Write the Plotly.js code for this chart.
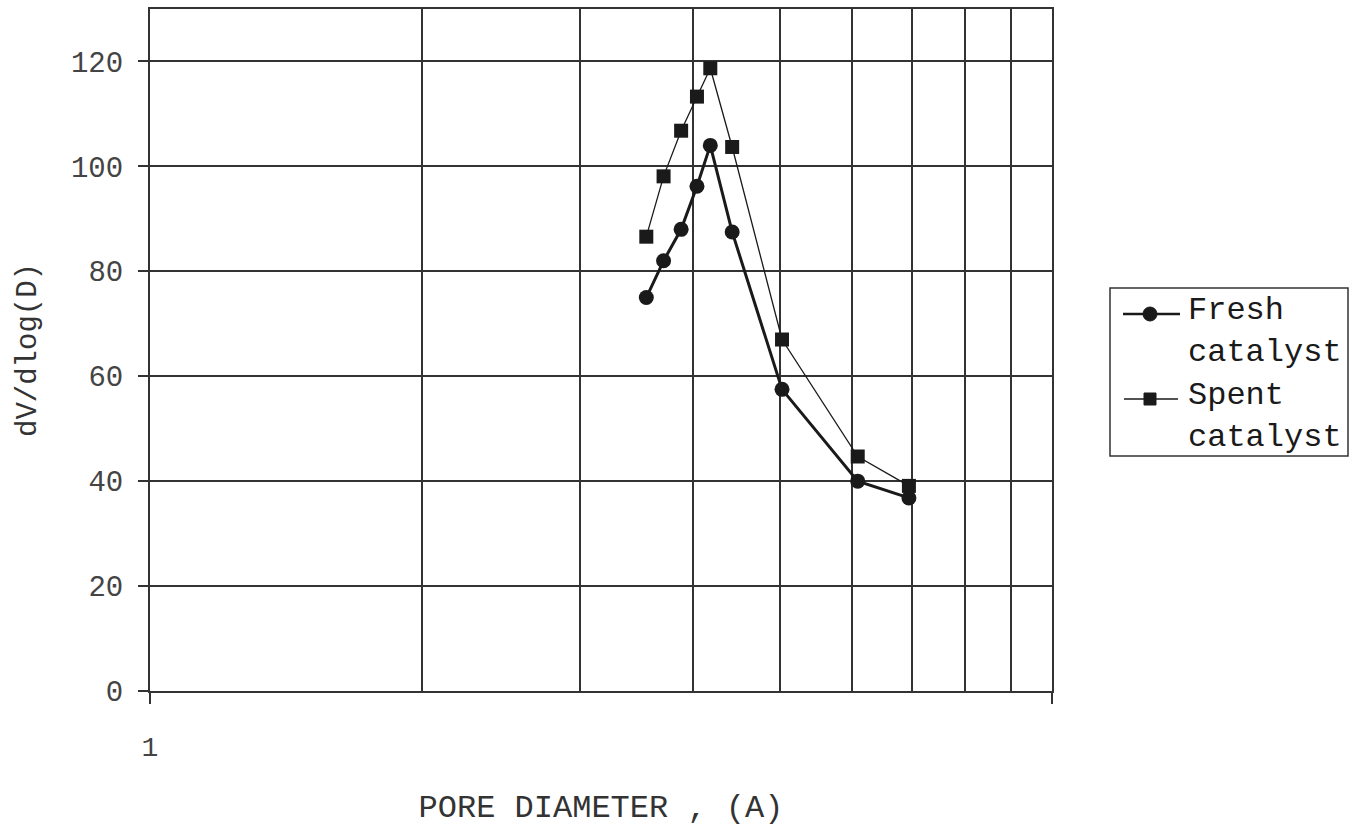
<!DOCTYPE html>
<html>
<head>
<meta charset="utf-8">
<script src="https://cdn.plot.ly/plotly-3.0.1.min.js"></script>
<style>
  html, body { margin: 0; padding: 0; background: #ffffff; }
  #chart { width: 1350px; height: 828px; }
</style>
</head>
<body>
<div id="chart"></div>
<script>
// Pore size distribution, fresh vs spent catalyst
const poreDiameter = [3.55, 3.71, 3.88, 4.04, 4.18, 4.42, 5.02, 6.09, 6.94];
const freshValues  = [75.0, 82.0, 88.0, 96.2, 104.0, 87.5, 57.5, 40.0, 36.8];
const spentValues  = [86.6, 98.1, 106.8, 113.3, 118.7, 103.7, 67.0, 44.7, 39.1];

const yTicks = [0, 20, 40, 60, 80, 100, 120];
const xMajorTicks = [1, 10];
const xMajorLabels = ['1', ''];
const xMinorGrid = [2, 3, 4, 5, 6, 7, 8, 9];

const monoFont = 'Liberation Mono, Courier New, monospace';
const ink = '#1a1a1a';
const gridInk = '#333333';

const traces = [
  {
    x: poreDiameter, y: freshValues, name: 'Fresh catalyst',
    type: 'scatter', mode: 'lines+markers',
    line: { color: ink, width: 3 },
    marker: { symbol: 'circle', size: 15, color: ink },
    cliponaxis: false
  },
  {
    x: poreDiameter, y: spentValues, name: 'Spent catalyst',
    type: 'scatter', mode: 'lines+markers',
    line: { color: ink, width: 1.3 },
    marker: { symbol: 'square', size: 14, color: ink },
    cliponaxis: false
  }
];

// Hand-drawn legend box on the right, positioned in paper units
const W = 902, H = 682, L = 150, B = 691;
const px = v => (v - L) / W;
const py = v => (B - v) / H;

const shapes = [
  { type: 'rect', xref: 'paper', yref: 'paper',
    x0: px(1110), x1: px(1348), y0: py(456), y1: py(288),
    line: { color: gridInk, width: 1.5 }, fillcolor: 'rgba(0,0,0,0)' },
  { type: 'line', xref: 'paper', yref: 'paper',
    x0: px(1123), x1: px(1180), y0: py(314), y1: py(314),
    line: { color: ink, width: 2.5 } },
  { type: 'circle', xref: 'paper', yref: 'paper',
    x0: px(1143), x1: px(1157), y0: py(321), y1: py(307),
    line: { color: ink, width: 1 }, fillcolor: ink },
  { type: 'line', xref: 'paper', yref: 'paper',
    x0: px(1124), x1: px(1178), y0: py(399), y1: py(399),
    line: { color: ink, width: 1.3 } },
  { type: 'rect', xref: 'paper', yref: 'paper',
    x0: px(1144), x1: px(1156), y0: py(405), y1: py(393),
    line: { color: ink, width: 1 }, fillcolor: ink }
];

const legendEntries = [
  { text: 'Fresh<br>catalyst', y: 331 },
  { text: 'Spent<br>catalyst', y: 416 }
];
const annotations = legendEntries.map(l => ({
  xref: 'paper', yref: 'paper', x: px(1186), y: py(l.y),
  xanchor: 'left', yanchor: 'middle', align: 'left', showarrow: false,
  text: l.text, font: { family: monoFont, size: 32, color: ink }
}));

const layout = {
  width: 1350, height: 828,
  margin: { l: 150, r: 298, t: 9, b: 137 },
  paper_bgcolor: '#ffffff', plot_bgcolor: '#ffffff',
  showlegend: false,
  font: { family: monoFont, color: '#444' },
  xaxis: {
    type: 'log', range: [0, 1],
    tickmode: 'array', tickvals: xMajorTicks, ticktext: xMajorLabels,
    ticks: 'outside', ticklen: 11, tickwidth: 2, tickcolor: gridInk,
    ticklabelstandoff: 18,
    tickfont: { family: monoFont, size: 28, color: '#444' },
    showgrid: true, gridcolor: gridInk, gridwidth: 2,
    minor: { tickmode: 'array', tickvals: xMinorGrid, showgrid: true,
             gridcolor: gridInk, gridwidth: 2, ticks: '' },
    showline: true, linecolor: gridInk, linewidth: 2, mirror: true,
    zeroline: false,
    title: { text: 'PORE DIAMETER , (A)', standoff: 32,
             font: { family: monoFont, size: 32, color: '#333' } }
  },
  yaxis: {
    range: [0, 130],
    tickmode: 'array', tickvals: yTicks,
    ticks: 'outside', ticklen: 10, tickwidth: 2, tickcolor: gridInk,
    ticklabelstandoff: 9,
    tickfont: { family: monoFont, size: 29, color: '#444' },
    showgrid: true, gridcolor: gridInk, gridwidth: 2,
    showline: true, linecolor: gridInk, linewidth: 2, mirror: true,
    zeroline: false,
    title: { text: 'dV/dlog(D)', standoff: 26,
             font: { family: monoFont, size: 29, color: '#333' } }
  },
  shapes: shapes,
  annotations: annotations
};

Plotly.newPlot('chart', traces, layout, { displayModeBar: false, staticPlot: true });
</script>
</body>
</html>
